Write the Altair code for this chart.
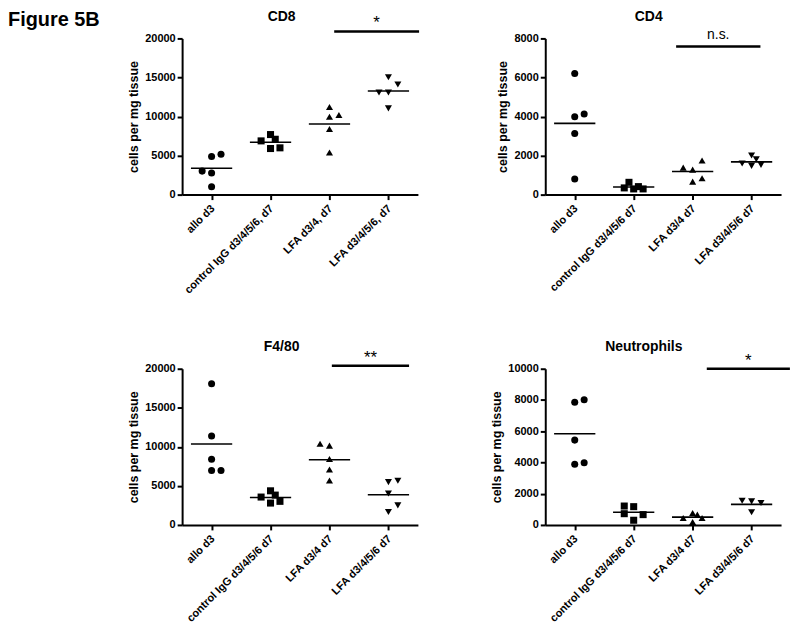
import json
import altair as alt
import pandas as pd

FONT = "Liberation Sans"

# ---- category labels -------------------------------------------------------
labels_cd8 = ["allo d3", "control IgG d3/4/5/6, d7", "LFA d3/4, d7", "LFA d3/4/5/6, d7"]
labels_std = ["allo d3", "control IgG d3/4/5/6 d7", "LFA d3/4 d7", "LFA d3/4/5/6 d7"]
marker_shapes = ["circle", "square", "triangle-up", "triangle-down"]

# ---- values (cells per mg tissue) and jitter slots ------------------------
cd8_allo = [4880, 5180, 3010, 2760, 1020]
cd8_igg = [7690, 6880, 7090, 5900, 5990]
cd8_lfa34 = [11210, 9980, 10190, 8410, 5390]
cd8_lfa3456 = [15030, 14100, 13080, 13080, 11040]
cd8_slots = [[0, 2, -2, 0, 0], [0, -2, 1, 0, 2], [0, 0, 2, 0, 0], [0, 2, -2, 0, 0]]

cd4_allo = [6200, 3990, 4130, 3130, 800]
cd4_igg = [630, 344, 292, 410, 292]
cd4_lfa34 = [1385, 1282, 1744, 667, 836]
cd4_lfa3456 = [2000, 1810, 1590, 1472, 1523]
cd4_slots = [[0, 0, 2, 0, 0], [-1, -2, 0, 1, 2], [-2, 0, 2, 0, 2], [0, 1, -2, 0, 2]]

f480_allo = [18090, 11380, 8410, 6960, 6960]
f480_igg = [4370, 3570, 3820, 2800, 3020]
f480_lfa34 = [10400, 10150, 8450, 7090, 5690]
f480_lfa3456 = [5650, 5480, 4030, 2510, 1660]
f480_slots = [[0, 0, 0, 0, 2], [0, -2, 1, 0, 2], [-2, 0, 0, 0, 0], [2, 0, 0, 2, 0]]

neu_allo = [8020, 7850, 5430, 3980, 3890]
neu_igg = [1210, 1170, 720, 660, 300]
neu_lfa34 = [766, 660, 447, 447, 191]
neu_lfa3456 = [1550, 1510, 1400, 810]
neu_slots = [[2, 0, 0, 2, 0], [-2, 0, -2, 2, 0], [0, 1, -2, 2, 0], [-2, 0, 2, 0]]

# ---- y ticks ---------------------------------------------------------------
ticks_20k = [0, 5000, 10000, 15000, 20000]
ticks_8k = [0, 2000, 4000, 6000, 8000]
ticks_10k = [0, 2000, 4000, 6000, 8000, 10000]

# ---- significance bars: (start, end, height, label) -----------------------
sig_cd8 = (2.08, 3.52, 20890, "*")
sig_cd4 = (1.72, 3.15, 7590, "n.s.")
sig_f480 = (2.04, 3.35, 20380, "**")
sig_neu = (2.24, 3.65, 10000, "*")

W, H = 237, 157
SLOT = 0.08


def panel(title, labels, series, slots, ymax, yticks, sig, title_x, figure_label=False):
    rows = []
    for i, (vals, js) in enumerate(zip(series, slots)):
        for v, j in zip(vals, js):
            rows.append({"idx": i, "group": labels[i], "value": v, "slot": j})
    df = pd.DataFrame(rows)

    x_scale = alt.Scale(domain=[-0.5, 3.5], nice=False, zero=False)
    y_scale = alt.Scale(domain=[0, ymax], nice=False, zero=True)
    x_axis = alt.Axis(
        values=[0, 1, 2, 3],
        labelExpr=json.dumps(labels) + "[datum.value]",
        title=None,
        grid=False,
        labelAngle=-45,
        labelAlign="right",
        labelBaseline="middle",
        labelPadding=7,
        labelOffset=1,
        labelOverlap=False,
        labelBound=False,
        labelFlush=False,
        labelLimit=300,
    )
    y_axis = alt.Axis(
        values=yticks,
        format="d",
        title="cells per mg tissue",
        grid=False,
        labelPadding=2,
        titlePadding=4,
    )

    base = alt.Chart(df)
    points = (
        base.transform_calculate(
            xpos=f"datum.idx + datum.slot * {SLOT}",
            shp=json.dumps(marker_shapes) + "[datum.idx]",
        )
        .mark_point(filled=True, size=50, opacity=1, color="black", strokeWidth=0)
        .encode(
            x=alt.X("xpos:Q", scale=x_scale, axis=x_axis),
            y=alt.Y("value:Q", scale=y_scale, axis=y_axis),
            shape=alt.Shape("shp:N", scale=None, legend=None),
        )
    )
    means = (
        base.transform_aggregate(mean="mean(value)", groupby=["idx"])
        .transform_calculate(x0="datum.idx - 0.35", x1="datum.idx + 0.35")
        .mark_rule(color="black", strokeWidth=1.6)
        .encode(
            x=alt.X("x0:Q", scale=x_scale, axis=x_axis),
            x2="x1:Q",
            y=alt.Y("mean:Q", scale=y_scale, axis=y_axis),
        )
    )
    sig_df = pd.DataFrame(
        {"x0": [sig[0]], "x1": [sig[1]], "y": [sig[2]], "label": [sig[3]]}
    )
    sig_base = alt.Chart(sig_df)
    bar = sig_base.mark_rule(color="black", strokeWidth=2.6).encode(
        x=alt.X("x0:Q", scale=x_scale, axis=x_axis),
        x2="x1:Q",
        y=alt.Y("y:Q", scale=y_scale, axis=y_axis),
    )
    is_ns = sig[3] == "n.s."
    sig_text = (
        sig_base.transform_calculate(xm="(datum.x0 + datum.x1) / 2")
        .mark_text(
            font=FONT,
            fontSize=14 if is_ns else 17,
            baseline="middle",
            align="center",
            dy=-11 if is_ns else -8,
            color="black",
        )
        .encode(
            x=alt.X("xm:Q", scale=x_scale, axis=x_axis),
            y=alt.Y("y:Q", scale=y_scale, axis=y_axis),
            text="label:N",
        )
    )
    title_mark = (
        alt.Chart(pd.DataFrame({"t": [title]}))
        .mark_text(
            font=FONT, fontSize=14, fontWeight="bold", align="center",
            baseline="alphabetic", color="black",
        )
        .encode(x=alt.value(title_x), y=alt.value(-17.5), text="t:N")
    )
    layers = [means, points, bar, sig_text, title_mark]
    if figure_label:
        fig = (
            alt.Chart(pd.DataFrame({"t": ["Figure 5B"]}))
            .mark_text(
                font=FONT, fontSize=20, fontWeight="bold", align="left",
                baseline="alphabetic", color="black",
            )
            .encode(x=alt.value(-175), y=alt.value(-12), text="t:N")
        )
        layers.append(fig)
    return alt.layer(*layers).properties(width=W, height=H)


p_cd8 = panel("CD8", labels_cd8, [cd8_allo, cd8_igg, cd8_lfa34, cd8_lfa3456],
              cd8_slots, 20000, ticks_20k, sig_cd8, 100, figure_label=True)
p_cd4 = panel("CD4", labels_std, [cd4_allo, cd4_igg, cd4_lfa34, cd4_lfa3456],
              cd4_slots, 8000, ticks_8k, sig_cd4, 104)
p_f480 = panel("F4/80", labels_std, [f480_allo, f480_igg, f480_lfa34, f480_lfa3456],
               f480_slots, 20000, ticks_20k, sig_f480, 100)
p_neu = panel("Neutrophils", labels_std, [neu_allo, neu_igg, neu_lfa34, neu_lfa3456],
              neu_slots, 10000, ticks_10k, sig_neu, 99)

chart = (
    alt.concat(p_cd8, p_cd4, p_f480, p_neu, columns=2,
               spacing={"row": 175, "column": 128}, bounds="flush")
    .properties(padding={"left": 0, "top": 0, "right": 0, "bottom": 0},
                background="white")
    .configure_view(stroke=None)
    .configure_axis(
        domainColor="black",
        domainWidth=2,
        tickColor="black",
        tickWidth=2,
        tickSize=5,
        labelFont=FONT,
        labelFontSize=11,
        labelFontWeight="bold",
        labelColor="black",
        titleFont=FONT,
        titleFontSize=12.5,
        titleFontWeight="bold",
        titleColor="black",
    )
)

chart.save("out.html", embed_options={"renderer": "svg", "actions": False})
